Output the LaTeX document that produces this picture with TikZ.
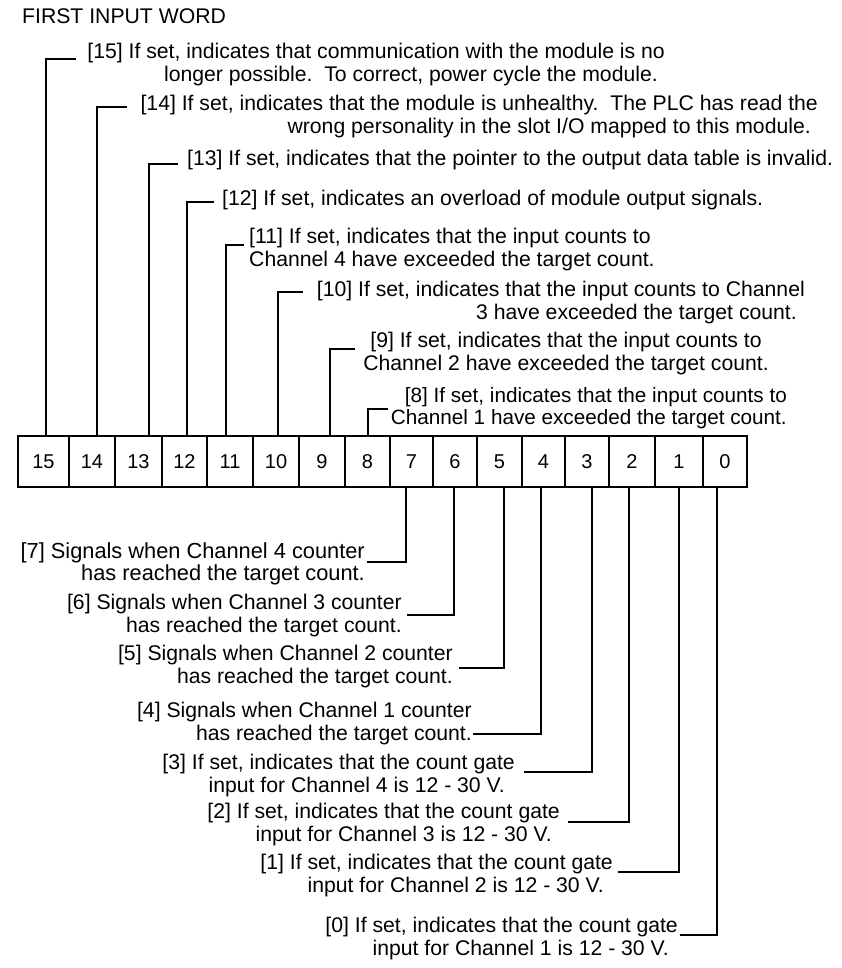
\documentclass[tikz,border=0pt]{standalone}
\usepackage{fontspec}
\setmainfont{Liberation Sans}
\begin{document}
\frenchspacing
\begin{tikzpicture}[x=1pt,y=-1pt,
  lbl/.style={inner sep=0pt, font=\fontsize{21.2}{22.6}\selectfont},
  cell/.style={draw, line width=1.5pt, minimum height=51pt, inner sep=0pt,
    text height=14.3pt, text depth=0pt, font=\fontsize{20}{20}\selectfont},
  conn/.style={line width=1.5pt}]
\useasboundingbox (0,0) rectangle (841,968);

% title
\node[lbl, anchor=north west] (title) at (22,9) {FIRST INPUT WORD};

% register cells
\foreach \b/\cx/\w in {15/43.5/51, 14/92/46, 13/138.5/47, 12/184.5/45, 11/230/46, 10/276/46,
  9/322/46, 8/367.5/45, 7/411.5/43, 6/455/44, 5/499.5/45, 4/543.5/43, 3/587/44, 2/632/46, 1/679/48, 0/725/44}
  \node[cell, minimum width=\w pt] (c\b) at (\cx,461.5) {\b};

% upper labels
\node[lbl, anchor=north east, align=right] (l15) at (665,43)
  {[15] If set, indicates that communication with the module is no\\longer possible.\ \ To correct, power cycle the module.\hspace*{7pt}};
\node[lbl, anchor=north east, align=right] (l14) at (818,95)
  {[14] If set, indicates that the module is unhealthy.\ \ The PLC has read the\\wrong personality in the slot I/O mapped to this module.\hspace*{7pt}};
\node[lbl, anchor=north west] (l13) at (187,150)
  {[13] If set, indicates that the pointer to the output data table is invalid.};
\node[lbl, anchor=north west] (l12) at (222,190)
  {[12] If set, indicates an overload of module output signals.};
\node[lbl, anchor=north west, align=left] (l11) at (249,228)
  {[11] If set, indicates that the input counts to\\Channel 4 have exceeded the target count.};
\node[lbl, anchor=north east, align=right] (l10) at (805,281)
  {[10] If set, indicates that the input counts to Channel\\3 have exceeded the target count.\hspace*{8pt}};
\node[lbl, anchor=north, align=center] (l9) at (566,332)
  {[9] If set, indicates that the input counts to\\Channel 2 have exceeded the target count.};
\node[lbl, anchor=north east, align=right, font=\fontsize{20.7}{22.6}\selectfont] (l8) at (787,387)
  {[8] If set, indicates that the input counts to\\Channel 1 have exceeded the target count.};

% lower labels
\node[lbl, anchor=north east, align=right, font=\fontsize{21.8}{22}\selectfont] (l7) at (365,542)
  {[7] Signals when Channel 4 counter\\has reached the target count.};
\node[lbl, anchor=north east, align=right] (l6) at (402,594)
  {[6] Signals when Channel 3 counter\\has reached the target count.};
\node[lbl, anchor=north east, align=right] (l5) at (453,645)
  {[5] Signals when Channel 2 counter\\has reached the target count.};
\node[lbl, anchor=north east, align=right] (l4) at (472,702)
  {[4] Signals when Channel 1 counter\\has reached the target count.};
\node[lbl, anchor=north east, align=right] (l3) at (515,754)
  {[3] If set, indicates that the count gate\\input for Channel 4 is 12 - 30 V.\hspace*{10pt}};
\node[lbl, anchor=north east, align=right] (l2) at (560,803)
  {[2] If set, indicates that the count gate\\input for Channel 3 is 12 - 30 V.\hspace*{8pt}};
\node[lbl, anchor=north east, align=right] (l1) at (613,854)
  {[1] If set, indicates that the count gate\\input for Channel 2 is 12 - 30 V.\hspace*{9pt}};
\node[lbl, anchor=north east, align=right] (l0) at (678,917)
  {[0] If set, indicates that the count gate\\input for Channel 1 is 12 - 30 V.\hspace*{9pt}};

% free ends of the leader lines
\coordinate (e15) at (76,59);
\coordinate (e14) at (127,107);
\coordinate (e13) at (178,164);
\coordinate (e12) at (214,202);
\coordinate (e11) at (244,245);
\coordinate (e10) at (303,292);
\coordinate (e9) at (355,349);
\coordinate (e8) at (388,409);
\coordinate (e7) at (367,562);
\coordinate (e6) at (407,615);
\coordinate (e5) at (459,668);
\coordinate (e4) at (473,734);
\coordinate (e3) at (524,772);
\coordinate (e2) at (568,822);
\coordinate (e1) at (618,872);
\coordinate (e0) at (680,935);

% upper leaders
\foreach \b/\dx in {15/2.5, 14/5, 13/10.5, 12/2.5, 11/-4, 10/2, 9/8, 8/0.5}
  \draw[conn] ([xshift=\dx pt]c\b.north) |- (e\b);
% lower leaders
\foreach \b/\dx in {7/-5.5, 6/-1, 5/4.5, 4/-2.5, 3/5, 2/-3, 1/0, 0/-8}
  \draw[conn] ([xshift=\dx pt]c\b.south) |- (e\b);
\end{tikzpicture}
\end{document}
